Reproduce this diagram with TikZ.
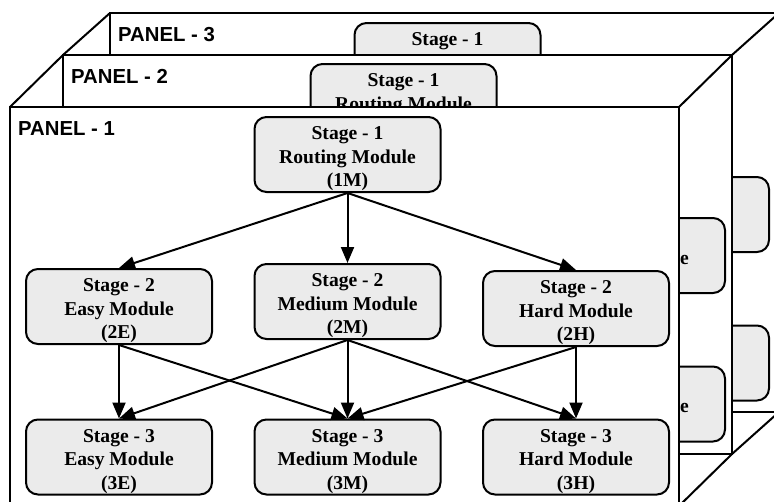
\documentclass[tikz,border=0pt]{standalone}
\usepackage{fontspec}
\setmainfont{Liberation Serif}
\newfontfamily\panelfont{Liberation Sans}
\usetikzlibrary{arrows.meta}

\newcommand{\topgap}{\rule{0pt}{21.5pt}}
\tikzset{
  module/.style={draw, line width=2pt, fill=black!8, rounded corners=12pt,
    minimum width=186pt, minimum height=75pt, inner sep=0pt, align=center,
    font=\bfseries\fontsize{19.6}{23.5}\selectfont},
  panelbox/.style={draw, line width=2pt, fill=white},
  panelname/.style={anchor=north west, inner sep=0pt,
    font=\panelfont\bfseries\fontsize{20.3}{24}\selectfont}
}

\begin{document}
\begin{tikzpicture}[x=1pt,y=-1pt]
  \tikzset{>={Triangle[length=16pt,width=13pt]}}
  \useasboundingbox (0,0) rectangle (774,501);
  \clip (0,0) rectangle (774,501);
  \foreach \p/\px/\py/\cx/\cy in {3/110/13/110/13, 2/63/55/66/54, 1/10/107/10/107} {
    \coordinate (TL\p) at (\px,\py);
    \coordinate (TR\p) at (\px+669,\py);
    \coordinate (BR\p) at (\px+669,\py+399);
    \coordinate (BL\p) at (\px,\py+399);
    \ifnum\p<3
      \pgfmathtruncatemacro{\q}{\p + 1}
      \draw [line width=2pt] (TL\q) -- (TL\p) (TR\q) -- (TR\p) (BR\q) -- (BR\p);
    \fi
    \draw [panelbox] (TL\p) -- (TR\p) -- (BR\p) -- (BL\p) -- cycle;
    \node [panelname] (Panel\p) at (\px+8,\py+14) {PANEL - \p};
    \node [module] (1M\p) at (\cx+337.5,\cy+47.5) {\topgap Stage - 1\\Routing Module\\(1M)};
    \foreach \m/\k/\dx/\dy in {Easy/E/109/199.5, Medium/M/337.5/194.5, Hard/H/566/201.5} {
      \node [module] (2\k\p) at (\cx+\dx,\cy+\dy) {\topgap Stage - 2\\\m{} Module\\(2\k)};
      \node [module] (3\k\p) at (\cx+\dx,\cy+350) {\topgap Stage - 3\\\m{} Module\\(3\k)};
      \draw [->, line width=2pt] (1M\p.south) -- (2\k\p.north);
    }
    \foreach \a/\b in {E/E, E/M, M/E, M/M, M/H, H/M, H/H} {
      \draw [->, line width=2pt] (2\a\p.south) -- (3\b\p.north);
    }
  }
\end{tikzpicture}
\end{document}
